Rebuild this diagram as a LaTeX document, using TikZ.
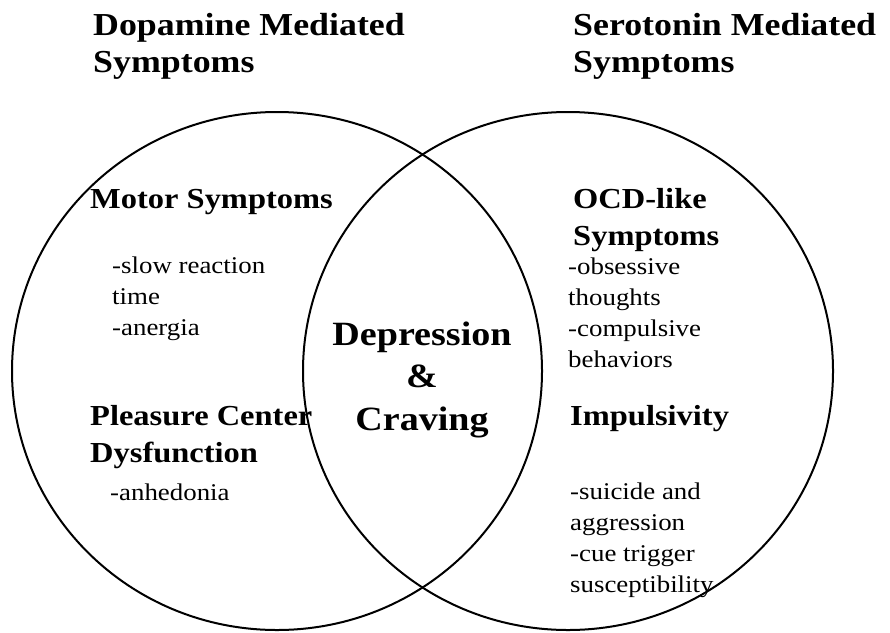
\documentclass[tikz,border=0pt]{standalone}
\usepackage{fontspec}
\setmainfont{Liberation Serif}[FakeStretch=1.12]

\tikzset{
    toptitle/.style={anchor=base west, inner sep=0pt, align=left,
        font=\fontsize{32}{37}\selectfont\bfseries},
    subhead/.style={anchor=base west, inner sep=0pt, align=left,
        font=\fontsize{29}{37}\selectfont\bfseries},
    itemtext/.style={anchor=base west, inner sep=0pt, align=left,
        font=\fontsize{24}{30.8}\selectfont},
    setline/.style={line width=2pt}
}

\begin{document}
\begin{tikzpicture}[x=1pt, y=-1pt]
    \useasboundingbox (0,0) rectangle (890,632);

    % the two sets
    \draw[setline] (277,371) ellipse [x radius=265, y radius=259];
    \draw[setline] (568,371) ellipse [x radius=265, y radius=259];

    % titles (placed at the baseline of their last line)
    \node[toptitle] (dopa) at (93,72) {Dopamine Mediated\\Symptoms};
    \node[toptitle] (sero) at (573,72) {Serotonin Mediated\\Symptoms};

    % left set
    \node[subhead] (motor) at (90,208) {Motor Symptoms};
    \node[itemtext] (motorlist) at (112,335) {-slow reaction\\time\\-anergia};
    \node[subhead] (pleasure) at (90,462) {Pleasure Center\\Dysfunction};
    \node[itemtext] (pleasurelist) at (110,500) {-anhedonia};

    % overlap
    \node[anchor=base, inner sep=0pt, align=center,
        font=\fontsize{34}{42.5}\selectfont\bfseries] (overlap) at (422,430)
        {Depression\\\&\\Craving};

    % right set
    \node[subhead] (ocd) at (573,245) {OCD-like\\Symptoms};
    \node[itemtext] (ocdlist) at (568,367) {-obsessive\\thoughts\\-compulsive\\behaviors};
    \node[subhead] (impuls) at (570,425) {Impulsivity};
    \node[itemtext] (impulslist) at (570,592) {-suicide and\\aggression\\-cue trigger\\susceptibility};
\end{tikzpicture}
\end{document}
